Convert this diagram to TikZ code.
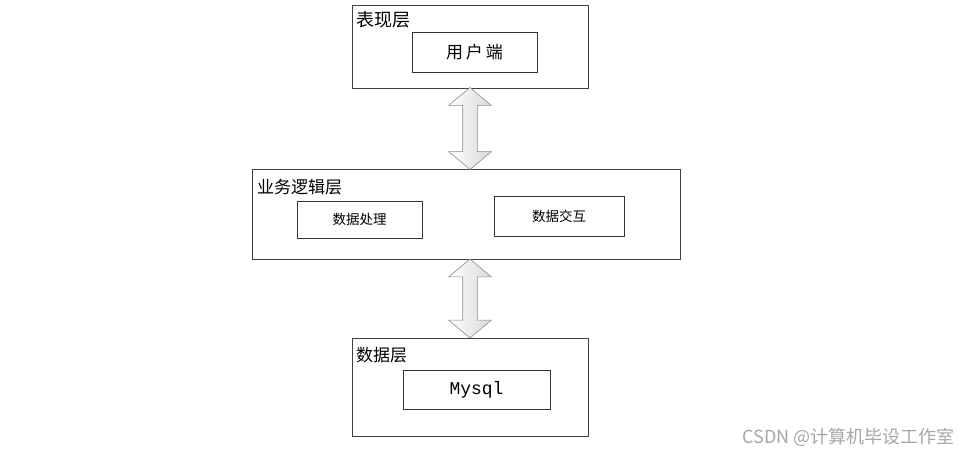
\documentclass[tikz,border=0pt]{standalone}
\usepackage{fontspec}
\setmainfont{Noto Sans CJK SC}
\newfontfamily\monofont{Liberation Mono}
\usetikzlibrary{shapes.arrows, calc}

\begin{document}
\begin{tikzpicture}[x=1pt, y=-1pt]

\tikzset{layer/.style = {draw=black!75, line width=0.8pt, fill=white, inner sep=0pt}}
\tikzset{part/.style = {draw=black!80, line width=0.8pt, fill=white, inner sep=0pt, font=\fontsize{13.5}{15}\selectfont}}
\tikzset{title/.style = {anchor=west, inner sep=0pt, font=\fontsize{17}{19}\selectfont}}
\tikzset{bigarrow/.style = {shape=double arrow, draw=black!45, line width=0.6pt,
    left color=white, right color=black!15, inner sep=7pt, minimum height=82pt,
    double arrow head extend=14pt, double arrow tip angle=100}}
\useasboundingbox (0,0) rectangle (959,454);
%layers
\node[layer, minimum width=236pt, minimum height=83pt] (pres) at (470,46.5) {};
\node[layer, minimum width=428pt, minimum height=90pt] (logic) at (466,214) {};
\node[layer, minimum width=236pt, minimum height=98pt] (data) at (470,387) {};
%titles
\node[title, font=\fontsize{18}{20}\selectfont] (prestitle) at (356,20) {表现层};
\node[title] (logictitle) at (257,187) {业务逻辑层};
\node[title] (datatitle) at (356,355) {数据层};
%parts
\node[part, minimum width=125pt, minimum height=40pt, font=\fontsize{17}{19}\selectfont] (client) at (474.5,52) {用\,户\,端};
\node[part, minimum width=125pt, minimum height=37pt] (process) at (359.5,219.5) {数据处理};
\node[part, minimum width=130pt, minimum height=40pt] (exchange) at (559,216) {数据交互};
\node[part, minimum width=147pt, minimum height=39pt, font=\monofont\fontsize{18}{20}\selectfont] (mysql) at (476.5,389.5) {Mysql};
%arrows
\node[bigarrow, rotate=90] (arrowtop) at ($(pres.south)!0.5!(pres.south|-logic.north)$) {};
\node[bigarrow, rotate=90, minimum height=79pt] (arrowbottom) at ($(data.north)!0.5!(data.north|-logic.south)$) {};
%watermark
\node[anchor=east, inner sep=0pt, text=black!35, font=\fontsize{18}{20}\selectfont] (mark) at (955,437) {CSDN @计算机毕设工作室};

\end{tikzpicture}
\end{document}
